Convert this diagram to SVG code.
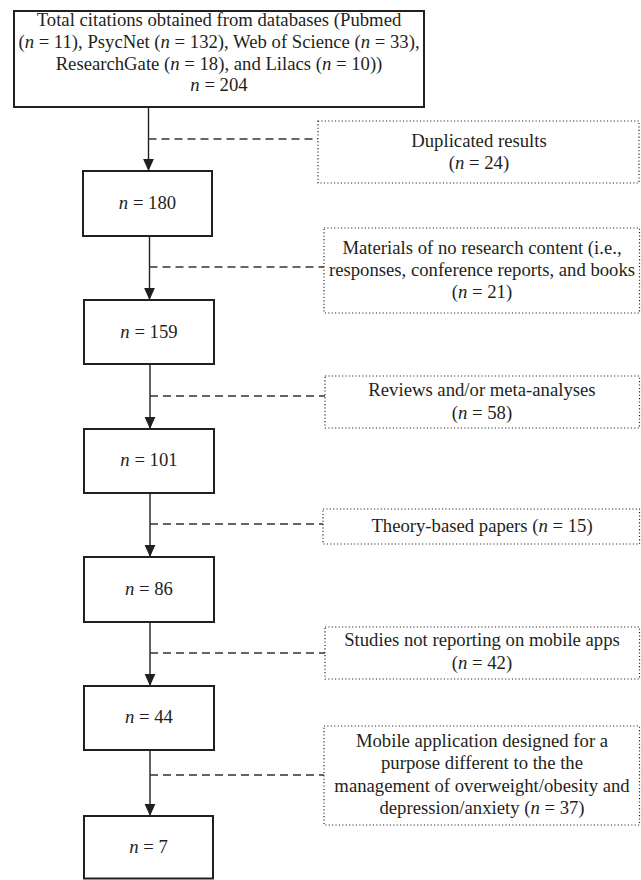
<svg xmlns="http://www.w3.org/2000/svg" width="641" height="880" viewBox="0 0 641 880">
<style>
text{font-family:"Liberation Serif","Times New Roman",serif;font-size:18.7px;fill:#231f20;text-anchor:middle}
.i{font-style:italic}
.box{fill:#fff;stroke:#231f20;stroke-width:2}
.dot{fill:#fff;stroke:#231f20;stroke-width:1.2;stroke-dasharray:1.1 2.3}
.flow{stroke:#231f20;stroke-width:1.4;fill:none}
.dash{stroke:#333;stroke-width:1.4;stroke-dasharray:8 5;fill:none}
</style>
<defs>
<marker id="ah" markerUnits="userSpaceOnUse" markerWidth="12" markerHeight="12" viewBox="0 0 10 9" refX="10" refY="4.5" orient="auto">
<path d="M0,0 L10,4.5 L0,9 Z" fill="#231f20"/>
</marker>
</defs>
<rect width="641" height="880" fill="#fff"/>
<g id="connectors">
<line class="flow" x1="148.5" y1="107" x2="148.5" y2="171" marker-end="url(#ah)"/>
<line class="dash" x1="148.5" y1="139" x2="318" y2="139"/>
<line class="flow" x1="149.5" y1="236" x2="149.5" y2="300" marker-end="url(#ah)"/>
<line class="dash" x1="149.5" y1="267" x2="324" y2="267"/>
<line class="flow" x1="150" y1="364" x2="150" y2="429" marker-end="url(#ah)"/>
<line class="dash" x1="150" y1="396" x2="325" y2="396"/>
<line class="flow" x1="150" y1="493" x2="150" y2="557" marker-end="url(#ah)"/>
<line class="dash" x1="150" y1="524" x2="323" y2="524"/>
<line class="flow" x1="150" y1="622" x2="150" y2="686" marker-end="url(#ah)"/>
<line class="dash" x1="150" y1="653" x2="325" y2="653"/>
<line class="flow" x1="150" y1="750" x2="150" y2="816" marker-end="url(#ah)"/>
<line class="dash" x1="150" y1="775" x2="324" y2="775"/>
</g>
<g id="n204">
<rect class="box" x="14" y="11" width="410" height="96"/>
<text x="219" y="26">Total citations obtained from databases (Pubmed</text>
<text x="219" y="48">(<tspan class="i">n</tspan> = 11), PsycNet (<tspan class="i">n</tspan> = 132), Web of Science (<tspan class="i">n</tspan> = 33),</text>
<text x="219" y="70">ResearchGate (<tspan class="i">n</tspan> = 18), and Lilacs (<tspan class="i">n</tspan> = 10))</text>
<text x="219" y="91"><tspan class="i">n</tspan> = 204</text>
</g>
<g id="ex1">
<rect class="dot" x="318" y="121" width="321" height="62"/>
<text x="479" y="146.5">Duplicated results</text>
<text x="479" y="168.5">(<tspan class="i">n</tspan> = 24)</text>
</g>
<g id="n180">
<rect class="box" x="83" y="171" width="129" height="65"/>
<text x="147.5" y="209"><tspan class="i">n</tspan> = 180</text>
</g>
<g id="ex2">
<rect class="dot" x="324" y="228" width="315.5" height="85"/>
<text x="482" y="253.5">Materials of no research content (i.e.,</text>
<text x="482" y="275.5">responses, conference reports, and books</text>
<text x="482" y="297.5">(<tspan class="i">n</tspan> = 21)</text>
</g>
<g id="n159">
<rect class="box" x="84" y="300" width="130" height="64"/>
<text x="149" y="338"><tspan class="i">n</tspan> = 159</text>
</g>
<g id="ex3">
<rect class="dot" x="325" y="376" width="314.5" height="52"/>
<text x="482" y="395.5">Reviews and/or meta-analyses</text>
<text x="482" y="418.5">(<tspan class="i">n</tspan> = 58)</text>
</g>
<g id="n101">
<rect class="box" x="84" y="429" width="130" height="64"/>
<text x="149" y="466"><tspan class="i">n</tspan> = 101</text>
</g>
<g id="ex4">
<rect class="dot" x="323" y="509" width="316.5" height="35"/>
<text x="482" y="531.5">Theory-based papers (<tspan class="i">n</tspan> = 15)</text>
</g>
<g id="n86">
<rect class="box" x="84" y="557" width="130" height="65"/>
<text x="149" y="594.5"><tspan class="i">n</tspan> = 86</text>
</g>
<g id="ex5">
<rect class="dot" x="325" y="627" width="314.5" height="52"/>
<text x="482" y="646">Studies not reporting on mobile apps</text>
<text x="482" y="668.5">(<tspan class="i">n</tspan> = 42)</text>
</g>
<g id="n44">
<rect class="box" x="84" y="686" width="130" height="64"/>
<text x="149" y="723"><tspan class="i">n</tspan> = 44</text>
</g>
<g id="ex6">
<rect class="dot" x="324" y="726" width="315.5" height="99"/>
<text x="482" y="746.5">Mobile application designed for a</text>
<text x="482" y="768.5">purpose different to the the</text>
<text x="482" y="791.5">management of overweight/obesity and</text>
<text x="482" y="813.5">depression/anxiety (<tspan class="i">n</tspan> = 37)</text>
</g>
<g id="n7">
<rect class="box" x="84" y="816" width="129" height="62.5"/>
<text x="148.5" y="853"><tspan class="i">n</tspan> = 7</text>
</g>
</svg>
